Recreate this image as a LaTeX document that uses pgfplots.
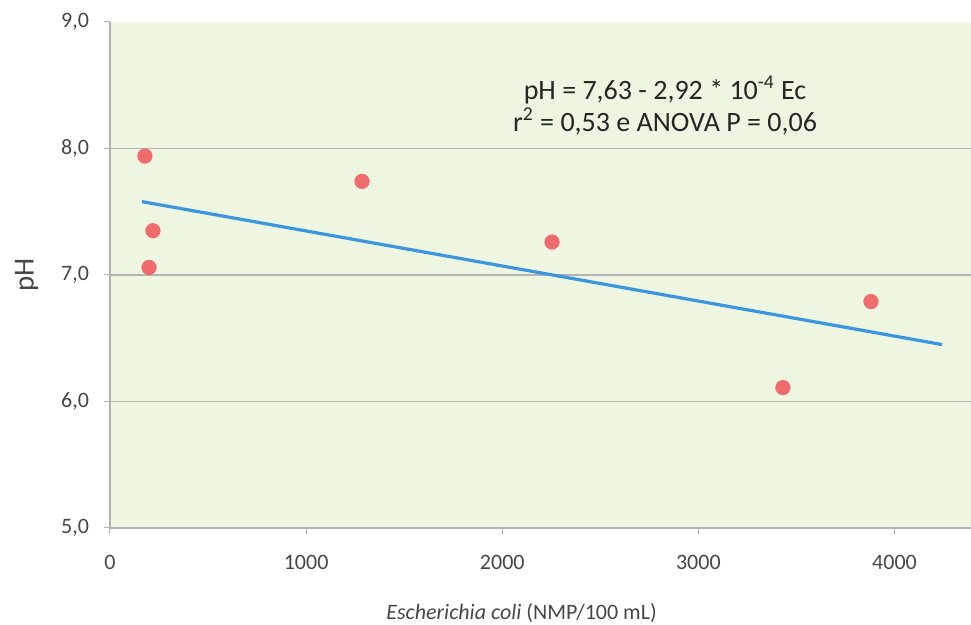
\documentclass[border=0pt]{standalone}
\usepackage{pgfplots}
\pgfplotsset{compat=1.18}
\usepackage{fontspec}
\setmainfont{Carlito}
\definecolor{bgc}{RGB}{238,245,224}
\definecolor{gridc}{RGB}{178,178,178}
\definecolor{dotc}{RGB}{240,108,108}
\definecolor{linec}{RGB}{58,150,222}
\definecolor{txt}{RGB}{70,70,70}
\begin{document}
\begin{tikzpicture}
\begin{axis}[
  at={(0,0)}, anchor=south west,
  width=430.5pt, height=253pt, scale only axis,
  xmin=0, xmax=4390, ymin=5, ymax=9,
  axis lines*=left,
  axis line style={-, draw=gridc, line width=0.6pt},
  xtick={0,1000,2000,3000,4000},
  ytick={5,6,7,8,9},
  extra y ticks={6,7,8},
  extra y tick labels={},
  extra y tick style={grid=major, major tick length=0pt},
  grid style={gridc, line width=0.8pt},
  tick align=outside, major tick length=3pt,
  tick style={draw=gridc, line width=0.5pt},
  axis background/.style={fill=bgc},
  /pgf/number format/assume math mode=true,
  y tick label style={/pgf/number format/use comma, /pgf/number format/fixed, /pgf/number format/fixed zerofill, /pgf/number format/precision=1, xshift=-4pt},
  x tick label style={/pgf/number format/1000 sep={}, yshift=-7pt},
  ticklabel style={font=\fontsize{11}{12}\selectfont, text=txt},
  xlabel={\textit{Escherichia coli} (NMP/100 mL)},
  xlabel style={font=\fontsize{11}{12}\selectfont, text=txt, at={(axis description cs:0.478,0)}, anchor=north, yshift=-34pt},
  ylabel={pH},
  ylabel style={font=\fontsize{14.5}{16}\selectfont, text=txt, yshift=1.5pt},
  clip=false,
]
\addplot[only marks, mark=*, mark size=3.6pt, color=dotc] coordinates {
  (178,7.94) (219,7.35) (199,7.06) (1285,7.74) (2254,7.26) (3431,6.11) (3880,6.79)
};
\addplot[linec, line width=1.6pt] coordinates {(163,7.58) (4242,6.45)};
\node[align=center, font=\fontsize{14}{16}\selectfont, text=black!85] at (axis cs:2830,8.34)
  {pH = 7,63 - 2,92 * 10\textsuperscript{-4} Ec\\r\textsuperscript{2} = 0,53 e ANOVA P = 0,06};
\end{axis}
\pgfresetboundingbox
\path[use as bounding box] (-55pt,-48.5pt) rectangle (430.5pt,264pt);
\end{tikzpicture}
\end{document}
